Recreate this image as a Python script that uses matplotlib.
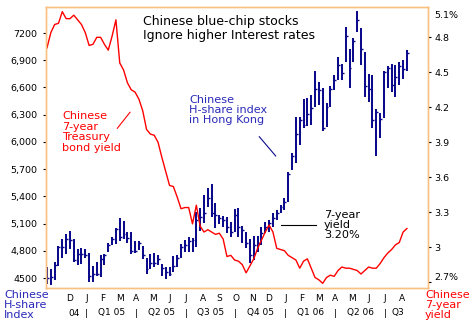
import numpy as np
import matplotlib
matplotlib.use("Agg")
import matplotlib.pyplot as plt
from matplotlib import transforms

# ---- data (weekly bars, Chinese H-share index) ----
high = [4625, 4599, 4680, 4853, 4927, 4982, 5022, 4927, 4820, 4834, 4817, 4779, 4636, 4680,
        4754, 4765, 4883, 4952, 5048, 5158, 5132, 5004, 5004,
        4908, 4908, 4853, 4717, 4761, 4772, 4754, 4651, 4625, 4625, 4743, 4750, 4872, 4919, 4956, 4938,
        5230, 5269, 5415, 5489, 5537, 5324,
        5195, 5184, 5169, 5121, 5257, 5269, 5074, 5011, 4927, 4963, 4963, 5066, 5121, 5140, 5213, 5250,
        5305, 5379, 5673, 5875,
        6279, 6279, 6471, 6489, 6518, 6783, 6665, 6592, 6427, 6618, 6739, 6941, 6857, 7272, 7022, 7144,
        7445, 7253,
        6996, 6750, 6739, 6364, 6317, 6783, 6838, 6860, 6849, 6886, 6905, 7015]
low = [4430, 4423, 4474, 4632, 4717, 4768, 4820, 4680, 4640, 4654, 4717, 4459, 4452, 4522,
       4515, 4643, 4783, 4864, 4872, 4908, 4934, 4883, 4761,
       4772, 4809, 4706, 4548, 4603, 4625, 4643, 4522, 4485, 4522, 4570, 4625, 4717, 4790, 4790, 4790,
       4840, 5018, 5103, 5287, 5169, 5050,
       5092, 5066, 5000, 4956, 5011, 4956, 4883, 4827, 4662, 4699, 4790, 4864, 4993, 5011, 5066, 5140,
       5220, 5250, 5342, 5691,
       5765, 5967, 6151, 6177, 6188, 6390, 6408, 6117, 6169, 6383, 6574, 6684, 6684, 6886, 6592, 6886,
       7206, 6849,
       6500, 6445, 6158, 5849, 6041, 6262, 6599, 6555, 6493, 6629, 6695, 6787]
close = [4500, 4515, 4640, 4838, 4838, 4934, 4919, 4695, 4768, 4768, 4754, 4522, 4540, 4548,
         4706, 4754, 4864, 4934, 5040, 4952, 4989, 4937, 4798,
         4798, 4883, 4750, 4600, 4662, 4669, 4706, 4607, 4570, 4541, 4636, 4717, 4838, 4864, 4912, 4919,
         5140, 5176, 5220, 5379, 5213, 5195,
         5158, 5140, 5066, 5011, 5195, 5066, 5029, 4883, 4754, 4864, 4883, 4993, 5066, 5103, 5158, 5220,
         5280, 5342, 5650, 5850,
         6088, 6240, 6188, 6309, 6371, 6581, 6570, 6151, 6390, 6581, 6684, 6849, 6765, 7169, 6813, 7110,
         7346, 7022,
         6618, 6581, 6243, 6328, 6254, 6769, 6813, 6629, 6714, 6838, 6802, 6985]

# Chinese 7-year treasury bond yield (%), weekly
yield7 = [4.71, 4.84, 4.91, 4.92, 5.02, 4.96, 4.96, 4.99, 4.95, 4.91,
          4.84, 4.73, 4.74, 4.80, 4.80, 4.74, 4.69, 4.81, 4.95, 4.58,
          4.52, 4.41, 4.35, 4.33, 4.27, 4.17, 4.01, 3.97, 3.96, 3.90,
          3.77, 3.65, 3.53, 3.52, 3.43, 3.33, 3.34, 3.34, 3.20, 3.36,
          3.18, 3.13, 3.15, 3.13, 3.11, 3.12, 3.07, 2.92, 2.93, 2.89,
          2.88, 2.85, 2.78, 2.84, 2.90, 2.99, 3.06, 3.13, 3.19, 3.13,
          2.99, 2.98, 2.97, 2.93, 2.91, 2.89, 2.82, 2.88, 2.90, 2.82,
          2.74, 2.72, 2.69, 2.74, 2.76, 2.75, 2.80, 2.83, 2.82, 2.82,
          2.81, 2.80, 2.77, 2.80, 2.83, 2.82, 2.82, 2.86, 2.91, 2.95,
          2.98, 3.02, 3.04, 3.13, 3.16]

month_labels = ["D", "J", "F", "M", "A", "M", "J", "J", "A", "S", "O",
                "N", "D", "J", "F", "M", "A", "M", "J", "J", "A"]
quarter_labels = ["04", "Q1 05", "Q2 05", "Q3 05", "Q4 05", "Q1 06", "Q2 06", "Q3"]
left_ticks = [4500, 4800, 5100, 5400, 5700, 6000, 6300, 6600, 6900, 7200]
left_ticklabels = ["4500", "4,800", "5,100", "5,400", "5,700", "6,000", "6,300", "6,600", "6,900", "7200"]
right_ticks = [2.7, 3.0, 3.3, 3.6, 3.9, 4.2, 4.5, 4.8]
right_ticklabels = ["", "3", "3.3", "3.6", "3.9", "4.2", "4.5", "4.8"]

# ---- styling ----
W, H = 474, 328
BAR = "#0B0B8C"
RED = "#FF0000"
ORANGE = "#FAC080"
BLUE_TXT = "#2A2AB8"

plt.rcParams["font.family"] = ["DejaVu Sans"]

fig = plt.figure(figsize=(W / 100, H / 100), dpi=100)
L, R, T, B = 46, 428, 7, 288
ax = fig.add_axes([L / W, 1 - B / H, (R - L) / W, (B - T) / H])
ax2 = ax.twinx()

x = np.arange(len(high))
ax.vlines(x, low, high, color=BAR, lw=1.45)
ax.hlines(close, x, x + 0.5, color=BAR, lw=1.0)

ax2.plot(np.arange(len(yield7)), yield7, color=RED, lw=1.0)

ax.set_xlim(-0.26, 99.5)
ax.set_ylim(4390, 7487)
ax2.set_ylim(2.65, 5.06)

# month ticks
m0, mstep = 6.0, 4.33
month_pos = [m0 + mstep * k for k in range(len(month_labels))]
ax.set_xticks(month_pos)
ax.set_xticklabels(month_labels, fontsize=6.5)
ax.tick_params(axis="x", length=0, pad=4.5)

ax.set_yticks(left_ticks)
ax.set_yticklabels(left_ticklabels, fontsize=6.8)
ax.tick_params(axis="y", direction="out", length=2.5, width=0.8, color="black", pad=3.5)

ax2.set_yticks(right_ticks)
ax2.set_yticklabels(right_ticklabels, fontsize=6.8)
ax2.tick_params(axis="y", direction="out", length=2.5, width=0.8, color="black", pad=2)

for a in (ax, ax2):
    for s in a.spines.values():
        s.set_color(ORANGE)
        s.set_linewidth(1.0)

# quarter row
btr = transforms.blended_transform_factory(ax.transData, fig.transFigure)
qy = 1 - 313 / H
sep_k = [1, 4, 7, 10, 13, 16, 19]
for k in sep_k:
    ax.text(m0 + mstep * k, qy, "|", transform=btr, ha="center", va="center", fontsize=6.5)
q_k = [0.25, 2.5, 5.5, 8.5, 11.5, 14.5, 17.5, 19.8]
for k, lab in zip(q_k, quarter_labels):
    ax.text(m0 + mstep * k, qy, lab, transform=btr, ha="center", va="center", fontsize=6.5)


def ftext(px, py, s, **kw):
    fig.text(px / W, 1 - py / H, s, **kw)


ftext(143, 22, "Chinese blue-chip stocks", fontsize=9, va="center")
ftext(143, 35, "Ignore higher Interest rates", fontsize=9, va="center")
ftext(62, 132, "Chinese\n7-year\nTreasury\nbond yield", fontsize=8.1, color=RED,
      va="center", linespacing=1.05)
ftext(189, 110, "Chinese\nH-share index\nin Hong Kong", fontsize=8.1, color=BLUE_TXT,
      va="center", linespacing=1.05)
ftext(324, 225, "7-year\nyield\n3.20%", fontsize=8.1, color="black", va="center", linespacing=1.0)
ftext(4, 305, "Chinese\nH-share\nIndex", fontsize=8.0, color=BLUE_TXT, va="center", linespacing=0.98)
ftext(425, 305, "Chinese\n7-year\nyield", fontsize=8.0, color=RED, va="center", linespacing=0.98)
ftext(434, 15, "5.1%", fontsize=6.8, va="center")
ftext(434, 277, "2.7%", fontsize=6.8, va="center")

# pointer lines
fig.add_artist(plt.Line2D([117.3 / W, 130 / W], [1 - 128.3 / H, 1 - 112.3 / H], color=RED, lw=0.8))
fig.add_artist(plt.Line2D([259.3 / W, 275.7 / W], [1 - 136.7 / H, 1 - 156 / H], color=BAR, lw=0.8))
fig.add_artist(plt.Line2D([281 / W, 316 / W], [1 - 225 / H, 1 - 225 / H], color="black", lw=0.8))

fig.savefig("out.png", dpi=100)
